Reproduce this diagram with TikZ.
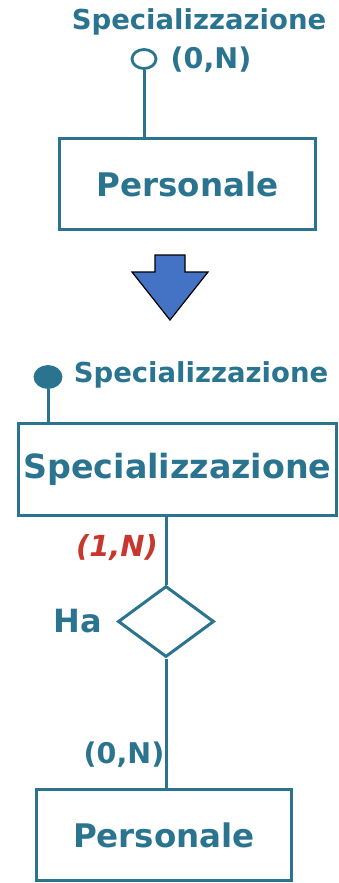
\documentclass[tikz,border=0pt]{standalone}
\usepackage{fontspec}
\setmainfont{DejaVu Sans}
\usetikzlibrary{shapes.geometric,positioning}
\definecolor{erteal}{HTML}{2A7490}
\definecolor{erred}{HTML}{C8372D}
\definecolor{arrowblue}{HTML}{4472C4}

\begin{document}
\begin{tikzpicture}[
			x=1pt,y=-1pt,
			entity/.style={
				draw=erteal,
				line width=3pt,
				text=erteal,
				inner sep=0pt,
				font=\fontsize{32.5}{36}\selectfont\bfseries
			},
			rel/.style={
				draw=erteal,
				line width=3pt,
				diamond,
				inner sep=0pt,
				minimum width=96pt,
				minimum height=71pt
			},
			attr/.style={
				draw=erteal,
				line width=2.8pt,
				ellipse,
				inner sep=0pt,
				minimum width=24pt,
				minimum height=19pt
			},
			lbl/.style={
				text=erteal,
				inner sep=0pt,
				font=\fontsize{27.5}{30}\selectfont\bfseries
			},
			link/.style={
				draw=erteal,
				line width=3pt
			}
			]
			
			\useasboundingbox (0,0) rectangle (339,883);
			
			% schema di partenza
			\node[entity,minimum width=256pt,minimum height=91pt] (pers1) at (187.5,184) {Personale};
			\node[attr,fill=white] (attr0) at (144,59) {};
			\node[lbl] (attrname0) at (199,22) {Specializzazione};
			\node[lbl,font=\fontsize{28.5}{32}\selectfont\bfseries] (card0) at (211,60) {(0,N)};
			
			\draw[link] (attr0.south) -- (attr0.south |- pers1.north);
			
			% freccia di trasformazione
			\draw[fill=arrowblue,line width=1.2pt,line join=miter]
			(155,255) -- (185,255) -- (185,272) -- (208,272) -- (170,320)
			-- (132,272) -- (155,272) -- cycle;
			
			% schema ristrutturato
			\node[entity,font=\fontsize{33.3}{36}\selectfont\bfseries,minimum width=318pt,minimum height=92pt] (spec) at (177.5,469.5) {Specializzazione};
			\node[attr,fill=erteal,minimum width=26pt,minimum height=21pt] (attr1) at (48,377) {};
			\node[lbl] (attrname1) at (201,375) {Specializzazione};
			
			\node[rel] (ha) at (166,621.5) {};
			\node[lbl,font=\fontsize{32}{34}\selectfont\bfseries,left=14pt of ha] (haname) {Ha};
			
			\node[entity,minimum width=255pt,minimum height=91pt] (pers2) at (164,835) {Personale};
			
			\node[lbl,text=erred,font=\fontsize{29}{32}\selectfont\bfseries\itshape] (card1) at (117,548) {(1,N)};
			\node[lbl,font=\fontsize{28.5}{32}\selectfont\bfseries] (card2) at (124,755) {(0,N)};
			
			\draw[link] (attr1.south) -- (attr1.south |- spec.north);
			\draw[link] (ha.north |- spec.south) -- (ha.north);
			\draw[link] (ha.south) -- (ha.south |- pers2.north);
			
		\end{tikzpicture}
\end{document}
